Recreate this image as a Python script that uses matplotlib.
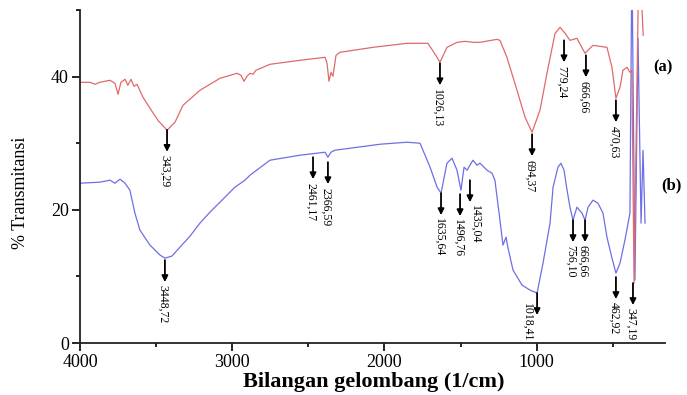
import matplotlib
matplotlib.use("Agg")
import matplotlib.pyplot as plt

# Spektrum (a) - merah
bilangan_a = [4000, 3934, 3901, 3869, 3803, 3770, 3750, 3731, 3704, 3685, 3665, 3645, 3625,
              3586, 3540, 3488, 3428, 3376, 3323, 3212, 3080, 2968, 2942, 2922, 2903, 2883,
              2863, 2844, 2752, 2555, 2390, 2377, 2364, 2351, 2338, 2318, 2292, 2075, 1852,
              1714, 1654, 1635, 1589, 1523, 1470, 1418, 1372, 1260, 1241, 1195, 1129, 1076,
              1030, 978, 932, 879, 846, 813, 781, 735, 682, 630, 538, 505, 479, 452, 433,
              406, 387, 374, 360, 327, 300]
transmit_a = [39.15, 39.15, 38.85, 39.15, 39.45, 39.0, 37.35, 39.15, 39.6, 38.7, 39.6, 38.55, 38.85,
              36.9, 35.25, 33.45, 31.95, 33.15, 35.7, 37.95, 39.75, 40.5, 40.2, 39.3, 40.05, 40.5,
              40.35, 40.95, 41.85, 42.45, 42.9, 42.0, 39.3, 40.65, 40.05, 43.2, 43.65, 44.4, 45.0,
              45.0, 42.9, 42.15, 44.4, 45.15, 45.3, 45.15, 45.15, 45.6, 45.45, 42.9, 37.95, 33.9,
              31.65, 34.95, 40.5, 46.5, 47.4, 46.5, 45.45, 45.75, 43.5, 44.7, 44.4, 41.4, 36.75, 38.4, 40.95,
              41.4, 40.65, 41.0, 9.0, 60.0, 46.2]

# Spektrum (b) - biru
bilangan_b = [4000, 3869, 3803, 3770, 3737, 3704, 3672, 3639, 3606, 3540, 3474, 3442, 3396,
              3343, 3277, 3212, 3146, 3080, 2982, 2916, 2883, 2752, 2555, 2390, 2371, 2351,
              2325, 2226, 2029, 1852, 1766, 1700, 1654, 1628, 1589, 1556, 1523, 1497, 1477,
              1457, 1438, 1418, 1392, 1372, 1326, 1293, 1274, 1241, 1221, 1201, 1188, 1155,
              1096, 1044, 997, 958, 912, 892, 860, 840, 820, 800, 781, 761, 735, 702, 682,
              662, 630, 597, 564, 538, 505, 479, 452, 420, 387, 374, 354, 334, 314, 301, 288]
transmit_b = [24.0, 24.15, 24.45, 24.0, 24.6, 24.0, 22.95, 19.5, 16.95, 14.7, 13.2, 12.75, 13.05,
              14.4, 16.05, 18.0, 19.65, 21.15, 23.4, 24.45, 25.2, 27.45, 28.2, 28.65, 27.9, 28.65,
              28.95, 29.25, 29.85, 30.15, 30.0, 26.4, 23.4, 22.5, 27.0, 27.75, 25.95, 22.95, 26.4,
              25.95, 26.7, 27.45, 26.7, 27.0, 25.95, 25.5, 24.45, 18.45, 14.7, 15.9, 14.25, 10.95,
              8.7, 7.95, 7.5, 12.0, 18.0, 23.4, 26.4, 27.0, 25.95, 22.95, 20.4, 18.45, 20.4, 19.5, 18.45,
              20.4, 21.45, 21.0, 19.5, 15.9, 12.75, 10.5, 12.0, 15.45, 19.5, 58.0, 9.45, 45.75, 18.0, 28.95, 18.0]

# Puncak yang diberi tanda panah
label_a = ["343,29", "1026,13", "694,37", "779,24", "666,66", "470,63"]
puncak_x_a = [3428, 1635, 1030, 820, 676, 479]
puncak_y_a = [32.0, 42.0, 31.35, 45.45, 43.2, 36.45]

label_b = ["3448,72", "2461,17", "2366,59", "1635,64", "1496,76", "1435,04",
           "1018,41", "756,10", "666,66", "462,92", "347,19"]
puncak_x_b = [3442, 2469, 2371, 1628, 1503, 1438, 997, 761, 682, 479, 367]
puncak_y_b = [12.45, 27.9, 27.15, 22.5, 22.35, 24.45, 7.5, 18.45, 18.45, 9.9, 9.0]

warna_a = "#e06a6a"
warna_b = "#6e6ee6"


def tandai(ax, xs, ys, labels):
    panjang = 3.3
    for x, y, teks in zip(xs, ys, labels):
        ax.annotate("", xy=(x, y - panjang), xytext=(x, y),
                    arrowprops=dict(arrowstyle="-|>", color="black", lw=1.3,
                                    mutation_scale=9, shrinkA=0, shrinkB=0))
        if teks == "1018,41":
            # teks di samping panah karena dekat sumbu
            ax.text(x + 66, y - 1.5, teks, rotation=270, ha="center", va="top", fontsize=8.5)
        elif teks == "1435,04":
            ax.text(x - 33, y - panjang - 0.4, teks, rotation=270, ha="center", va="top", fontsize=8.5)
        else:
            ax.text(x + 15, y - panjang - 0.5, teks, rotation=270, ha="center", va="top", fontsize=8.5)


def main():
    plt.rcParams["font.family"] = ["Liberation Serif", "DejaVu Serif"]
    fig = plt.figure(figsize=(6.87, 3.95), dpi=100)
    ax = fig.add_axes([0.1164, 0.1316, 0.8515, 0.8430])

    ax.plot(bilangan_b, transmit_b, color=warna_b, lw=0.9)
    ax.plot(bilangan_a, transmit_a, color=warna_a, lw=0.9)

    tandai(ax, puncak_x_a, puncak_y_a, label_a)
    tandai(ax, puncak_x_b, puncak_y_b, label_b)

    ax.text(170, 41.4, "(a)", fontsize=12, fontweight="bold", ha="center", va="center", clip_on=False)
    ax.text(117, 23.7, "(b)", fontsize=12, fontweight="bold", ha="center", va="center", clip_on=False)

    ax.set_xlim(4000, 157)
    ax.set_ylim(0, 50)
    ax.set_xticks([4000, 3000, 2000, 1000])
    ax.set_xticks([3500, 2500, 1500, 500], minor=True)
    ax.set_yticks([0, 20, 40])
    ax.set_yticks([10, 30, 50], minor=True)

    for s in ["top", "right"]:
        ax.spines[s].set_visible(False)
    for s in ["left", "bottom"]:
        ax.spines[s].set_linewidth(1.3)
        ax.spines[s].set_color("#222222")
    ax.tick_params(which="major", direction="out", length=6, width=1.2, labelsize=13, pad=2)
    ax.tick_params(which="minor", direction="out", length=3, width=1.2)

    ax.set_xlabel("Bilangan gelombang (1/cm)", fontsize=16, fontweight="bold")
    ax.set_ylabel("% Transmitansi", fontsize=13)
    ax.xaxis.set_label_coords(0.503, -0.088)
    ax.yaxis.set_label_coords(-0.087, 0.45)

    fig.savefig("out.png", dpi=100)


if __name__ == "__main__":
    main()
